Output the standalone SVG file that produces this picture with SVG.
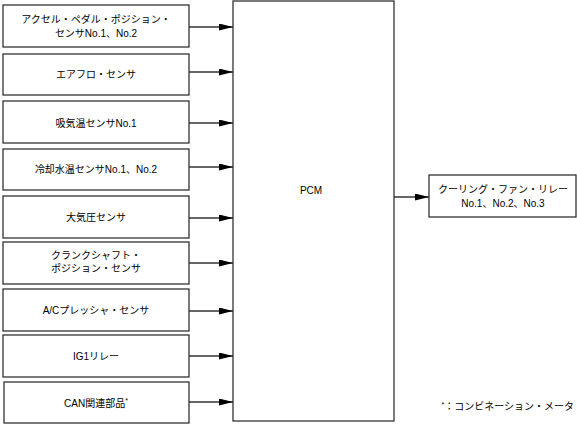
<svg xmlns="http://www.w3.org/2000/svg" width="577" height="424" viewBox="0 0 577 424">
<defs>
<style>
.box{fill:#fff;stroke:#333;stroke-width:1.3}
.t{font-family:"Liberation Sans","Noto Sans CJK JP",sans-serif;font-size:10px;fill:#000;text-anchor:middle}
.c{stroke:#333;stroke-width:1.3;fill:none}
</style>
<marker id="ah" viewBox="0 0 14 7" refX="14" refY="3.5" markerWidth="14" markerHeight="7" markerUnits="userSpaceOnUse" orient="auto">
<path d="M0,0 L14,3.5 L0,7 Z" fill="#000"/>
</marker>
</defs>
<rect width="577" height="424" fill="#fff"/>
<g id="n1"><rect class="box" x="3" y="5" width="186" height="42"/><text class="t" x="96" y="23">アクセル・ペダル・ポジション・</text><text class="t" x="96" y="37">センサNo.1、No.2</text></g>
<g id="n2"><rect class="box" x="3" y="54" width="186" height="41"/><text class="t" x="96" y="78">エアフロ・センサ</text></g>
<g id="n3"><rect class="box" x="3" y="101" width="186" height="42"/><text class="t" x="96" y="127">吸気温センサNo.1</text></g>
<g id="n4"><rect class="box" x="3" y="149" width="186" height="41"/><text class="t" x="96" y="173">冷却水温センサNo.1、No.2</text></g>
<g id="n5"><rect class="box" x="3" y="196" width="186" height="42"/><text class="t" x="96" y="221">大気圧センサ</text></g>
<g id="n6"><rect class="box" x="3" y="242" width="186" height="42"/><text class="t" x="96" y="259">クランクシャフト・</text><text class="t" x="96" y="272">ポジション・センサ</text></g>
<g id="n7"><rect class="box" x="3" y="289" width="186" height="42"/><text class="t" x="96" y="314">A/Cプレッシャ・センサ</text></g>
<g id="n8"><rect class="box" x="3" y="335" width="186" height="42"/><text class="t" x="96" y="360">IG1リレー</text></g>
<g id="n9"><rect class="box" x="4" y="382" width="185" height="41"/><text class="t" x="96" y="407">CAN関連部品<tspan font-size="7" dy="-4">*</tspan></text></g>
<g id="pcm"><rect class="box" x="233" y="1" width="161" height="420"/><text class="t" x="311" y="194">PCM</text></g>
<g id="fan"><rect class="box" x="429" y="175" width="147" height="42"/><text class="t" x="503" y="193">クーリング・ファン・リレー</text><text class="t" x="503" y="207">No.1、No.2、No.3</text></g>
<g id="connectors">
<line class="c" x1="189" y1="27" x2="233" y2="27" marker-end="url(#ah)"/>
<line class="c" x1="189" y1="72" x2="233" y2="72" marker-end="url(#ah)"/>
<line class="c" x1="189" y1="123" x2="233" y2="123" marker-end="url(#ah)"/>
<line class="c" x1="189" y1="167" x2="233" y2="167" marker-end="url(#ah)"/>
<line class="c" x1="189" y1="218" x2="233" y2="218" marker-end="url(#ah)"/>
<line class="c" x1="189" y1="263" x2="233" y2="263" marker-end="url(#ah)"/>
<line class="c" x1="189" y1="311" x2="233" y2="311" marker-end="url(#ah)"/>
<line class="c" x1="189" y1="356" x2="233" y2="356" marker-end="url(#ah)"/>
<line class="c" x1="189" y1="402" x2="233" y2="402" marker-end="url(#ah)"/>
<line class="c" x1="394" y1="197" x2="429" y2="197" marker-end="url(#ah)"/>
</g>
<text class="t" x="574" y="410" style="text-anchor:end"><tspan font-size="7" dy="-3">*</tspan><tspan dy="3">：コンビネーション・メータ</tspan></text>
</svg>
